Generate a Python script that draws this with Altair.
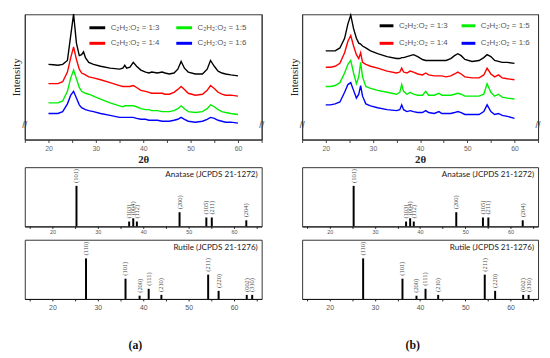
import altair as alt
import pandas as pd

# ---------------- data ----------------
two_theta = [20, 21, 22, 23, 24, 24.7, 25.3, 25.9, 26.5, 27.0, 27.4, 27.8, 28.5, 29.5, 31,
             33, 35, 35.7, 36.1, 36.5, 37.2, 37.9, 38.6, 39.5, 40.5, 41.2, 41.8, 43, 44, 44.6,
             45.5, 46.5, 47.3, 48.0, 48.7, 49.5, 51, 52.5, 53.5, 54.2, 55, 55.8, 56.6, 57.4, 58.5, 60]

series_names = ["C\u2082H\u2082:O\u2082 = 1:3", "C\u2082H\u2082:O\u2082 = 1:4",
                "C\u2082H\u2082:O\u2082 = 1:5", "C\u2082H\u2082:O\u2082 = 1:6"]
series_colors = ["#000000", "#ff0000", "#00ee00", "#0000ff"]

# panel (a)  (order: 1:3, 1:4, 1:5, 1:6)
a_13 = [78, 77.5, 77, 78, 82, 108, 130, 100, 87, 88, 91, 85, 80, 78, 76,
        74, 73, 74, 77, 74, 75, 80, 76, 72, 70, 69, 70, 69, 70, 69,
        68, 69, 73, 81, 74, 70, 68, 68, 73, 82, 76, 71, 69, 68, 67, 66]
a_14 = [58, 58, 58, 60, 70, 85, 96, 83, 73, 69, 68, 67, 65, 64, 62,
        59, 56, 55, 55, 55, 55, 56, 54, 51, 50, 49, 48, 48, 48, 47,
        47, 49, 52, 55, 52, 48, 46, 47, 51, 56, 53, 49, 47, 46, 46, 45]
a_15 = [38, 38, 38, 40, 50, 64, 72, 63, 54, 50, 49, 48, 47, 45, 42,
        38, 35, 34, 35, 35, 35, 35, 34, 32, 31, 31, 30, 30, 29, 29,
        29, 30, 32, 35, 32, 29, 28, 29, 32, 36, 34, 31, 29, 28, 27, 26]
a_16 = [27, 27, 27, 29, 37, 46, 50, 43, 36, 33, 32, 31, 30, 29, 27,
        25, 23, 23, 23, 23, 23, 23, 22, 21, 21, 20, 20, 20, 19, 19,
        19, 20, 21, 23, 21, 19, 18, 19, 21, 23, 22, 20, 19, 18, 18, 17]

# panel (b)
b_13 = [92, 92, 92, 95, 105, 120, 129, 115, 105, 100, 99, 97, 95, 92, 89,
        86, 84, 84, 85, 85, 86, 87, 88, 86, 83, 82, 82, 82, 82, 82,
        82, 84, 87, 89, 87, 83, 81, 82, 85, 88, 86, 82, 81, 80, 80, 79]
b_14 = [75, 75, 76, 79, 90, 102, 108, 97, 88, 84, 90, 80, 78, 76, 74,
        71, 69, 70, 74, 70, 69, 71, 70, 68, 67, 69, 67, 66, 66, 66,
        65, 66, 68, 70, 68, 65, 64, 64, 67, 74, 68, 65, 67, 64, 63, 62]
b_15 = [55, 55, 56, 59, 69, 78, 82, 69, 58, 65, 80, 65, 55, 53, 51,
        49, 47, 49, 57, 50, 47, 49, 47, 46, 46, 50, 46, 46, 48, 46,
        46, 46, 47, 48, 47, 45, 45, 45, 47, 58, 49, 45, 47, 44, 43, 42]
b_16 = [36, 36, 37, 39, 49, 57, 59, 51, 43, 47, 56, 45, 37, 35, 33,
        31, 30, 31, 36, 31, 29, 30, 29, 28, 28, 30, 28, 27, 29, 27,
        27, 27, 28, 29, 28, 26, 26, 26, 29, 36, 29, 26, 27, 25, 24, 22]

anatase_pos = [25.3, 36.9, 37.8, 38.6, 48.0, 53.9, 55.1, 62.7]
anatase_int = [100, 12, 20, 12, 35, 22, 22, 15]
anatase_hkl = ["(101)", "(103)", "(004)", "(112)", "(200)", "(105)", "(211)", "(204)"]

rutile_pos = [27.4, 36.1, 39.2, 41.2, 44.0, 54.3, 56.6, 62.8, 64.0]
rutile_int = [100, 50, 8, 25, 10, 60, 20, 10, 10]
rutile_hkl = ["(110)", "(101)", "(200)", "(111)", "(210)", "(211)", "(220)", "(002)", "(310)"]

tick_vals = [15, 20, 25, 30, 35, 40, 45, 50, 55, 60, 65]
LBL = "datum.value % 10 == 0 ? datum.label : ''"

TOP_H = 127
STICK_H = 60


def xscale():
    return alt.Scale(domain=[15, 65], nice=False, zero=False)


def yscale_top():
    return alt.Scale(domain=[0, 130], nice=False, zero=False)


def xrd_panel(vals, width, legend_x, legend_y, sym, col_pad, row_pad):
    rows = []
    for name, ys in zip(series_names, vals):
        for t, v in zip(two_theta, ys):
            rows.append({"t": t, "v": v, "s": name})
    df = pd.DataFrame(rows)
    lines = alt.Chart(df).mark_line(strokeWidth=1.4).encode(
        x=alt.X("t:Q", scale=xscale(),
                axis=alt.Axis(values=tick_vals, labelExpr=LBL, title="2\u03b8", grid=False,
                              tickSize=3, tickColor="#444", domainColor="#222",
                              labelFontSize=7, labelColor="#666", labelFont="Liberation Sans",
                              labelPadding=2, labelFlush=False,
                              titleFont="Liberation Serif", titleFontSize=11,
                              titleFontWeight="bold", titlePadding=2, titleColor="#222")),
        y=alt.Y("v:Q", scale=yscale_top(),
                axis=alt.Axis(title="Intensity", labels=False, ticks=False, domain=True,
                              domainColor="#333", domainWidth=1,
                              grid=False, titleFont="Liberation Serif", titleFontSize=11,
                              titleFontWeight="normal", titlePadding=3, titleColor="#222")),
        color=alt.Color("s:N",
                        scale=alt.Scale(domain=series_names, range=series_colors),
                        legend=alt.Legend(orient="none", legendX=legend_x, legendY=legend_y,
                                          columns=2, symbolType="stroke", symbolStrokeWidth=3,
                                          symbolSize=sym, labelFontSize=8,
                                          labelFont="Liberation Sans", labelColor="#555",
                                          title=None, columnPadding=col_pad,
                                          rowPadding=row_pad, labelOffset=4, padding=0)),
        detail="s:N",
    )
    # invisible copy whose top / right axes draw the remaining frame edges
    frame = alt.Chart(df).mark_line(opacity=0).encode(
        x=alt.X("t:Q", scale=xscale(),
                axis=alt.Axis(orient="top", labels=False, ticks=False, title=None,
                              domain=True, domainColor="#777", domainWidth=1, grid=False)),
        y=alt.Y("v:Q", scale=yscale_top(),
                axis=alt.Axis(orient="right", labels=False, ticks=False, title=None,
                              domain=True, domainColor="#333", domainWidth=1, grid=False)),
        detail="s:N",
    )
    one = alt.Data(values=[{"k": 1}])
    brk_l = alt.Chart(one).mark_text(text="//", fontSize=9, color="#444",
                                     font="Liberation Sans").encode(
        x=alt.value(0), y=alt.value(TOP_H - 15))
    brk_r = alt.Chart(one).mark_text(text="//", fontSize=9, color="#444",
                                     font="Liberation Sans").encode(
        x=alt.value(width), y=alt.value(TOP_H - 15))
    return alt.layer(lines, frame, brk_l, brk_r).resolve_axis(
        x="independent", y="independent").properties(width=width, height=TOP_H)


def stick_panel(pos, inten, hkl, title, width, lab_size, lab_pad, extra=None):
    df = pd.DataFrame({"t": pos, "i": inten, "h": hkl})
    base = alt.Chart(df)
    x = alt.X("t:Q", scale=xscale(),
              axis=alt.Axis(values=tick_vals, labelExpr=LBL, title=None, grid=False,
                            tickSize=2, tickColor="#222", domainColor="#111",
                            labelFontSize=lab_size, labelColor="#555",
                            labelFont="Liberation Sans", labelPadding=lab_pad,
                            labelFlush=False))
    y = alt.Y("i:Q", scale=alt.Scale(domain=[0, 146], nice=False), axis=None)
    bars = base.mark_bar(size=2, color="#000").encode(x=x, y=y)
    labs = base.mark_text(angle=270, align="left", baseline="middle", dx=3, fontSize=6.5,
                          font="Liberation Serif", color="#444").encode(x=x, y=y, text="h:N")
    one = alt.Data(values=[{"k": 1}])
    ttl = alt.Chart(one).mark_text(text=title, align="right", baseline="middle",
                                   fontSize=8.2, font="Lato", color="#222").encode(
        x=alt.value(width - 4), y=alt.value(8))
    layers = [bars, labs, ttl]
    if extra is not None:
        layers.append(alt.Chart(one).mark_text(text=extra, align="center", baseline="middle",
                                               fontSize=12, font="Liberation Serif",
                                               fontWeight="bold", color="#111").encode(
            x=alt.value(112), y=alt.value(107)))
    return alt.layer(*layers).properties(width=width, height=STICK_H)


def spacer(width):
    return alt.Chart(alt.Data(values=[{"k": 1}])).mark_point(opacity=0).encode(
        x=alt.value(0), y=alt.value(0)
    ).properties(width=width, height=1, view=alt.ViewBackground(stroke="transparent"))


WA, WB = 240, 239
top_a = xrd_panel([a_13, a_14, a_15, a_16], WA, 64, 4, 256, 10, 0)
top_b = xrd_panel([b_13, b_14, b_15, b_16], WB, 77, 3, 196, 7, 3)
an_a = stick_panel(anatase_pos, anatase_int, anatase_hkl, "Anatase (JCPDS 21-1272)", WA, 5.5, 1)
an_b = stick_panel(anatase_pos, anatase_int, anatase_hkl, "Anatase (JCPDS 21-1272)", WB, 5.5, 1)
ru_a = stick_panel(rutile_pos, rutile_int, rutile_hkl, "Rutile (JCPDS 21-1276)", WA, 7, 2.5, "(a)")
ru_b = stick_panel(rutile_pos, rutile_int, rutile_hkl, "Rutile (JCPDS 21-1276)", WB, 7, 2.5, "(b)")

chart = alt.concat(
    top_a, top_b, spacer(WA), spacer(WB), an_a, an_b, ru_a, ru_b,
    columns=2, spacing={"row": 13.5, "column": 41}, bounds="flush"
).resolve_scale(
    x="independent", y="independent", color="independent"
).resolve_legend(
    color="independent"
).properties(
    padding={"left": 2, "top": 0, "right": 0, "bottom": 0}
).configure_view(stroke="#333", strokeWidth=1)

chart.save("out.html", embed_options={"renderer": "svg", "actions": False})
